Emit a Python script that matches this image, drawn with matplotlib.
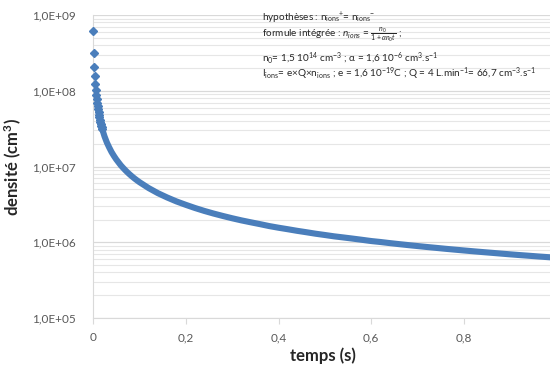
import matplotlib
matplotlib.use("Agg")
import matplotlib.pyplot as plt
from matplotlib.ticker import FixedLocator, LogLocator, NullFormatter

plt.rcParams['font.family'] = ['Lato', 'DejaVu Sans']
plt.rcParams['mathtext.fontset'] = 'custom'
plt.rcParams['mathtext.rm'] = 'Lato'
plt.rcParams['mathtext.it'] = 'Lato:italic'
plt.rcParams['mathtext.bf'] = 'Lato:bold'

# time (s)
temps = [0.001, 0.002, 0.003, 0.004, 0.005, 0.006, 0.007, 0.008, 0.009, 0.010,
         0.011, 0.012, 0.013, 0.014, 0.015, 0.016, 0.017, 0.018, 0.019, 0.020,
         0.025, 0.030, 0.035, 0.040, 0.045, 0.050, 0.055, 0.060, 0.065, 0.070,
         0.075, 0.080, 0.085, 0.090, 0.095, 0.100,
         0.12, 0.14, 0.16, 0.18, 0.20, 0.22, 0.24, 0.26, 0.28, 0.30,
         0.32, 0.34, 0.36, 0.38, 0.40, 0.42, 0.44, 0.46, 0.48, 0.50,
         0.52, 0.54, 0.56, 0.58, 0.60, 0.62, 0.64, 0.66, 0.68, 0.70,
         0.72, 0.74, 0.76, 0.78, 0.80, 0.82, 0.84, 0.86, 0.88, 0.90,
         0.92, 0.94, 0.96, 0.98, 1.00]
# density (cm-3)
densite = [6.25e8, 3.13e8, 2.08e8, 1.56e8, 1.25e8, 1.04e8, 8.93e7, 7.81e7, 6.94e7, 6.25e7,
           5.68e7, 5.21e7, 4.81e7, 4.46e7, 4.17e7, 3.91e7, 3.68e7, 3.47e7, 3.29e7, 3.13e7,
           2.50e7, 2.08e7, 1.79e7, 1.56e7, 1.39e7, 1.25e7, 1.14e7, 1.04e7, 9.62e6, 8.93e6,
           8.33e6, 7.81e6, 7.35e6, 6.94e6, 6.58e6, 6.25e6,
           5.21e6, 4.46e6, 3.91e6, 3.47e6, 3.13e6, 2.84e6, 2.60e6, 2.40e6, 2.23e6, 2.08e6,
           1.95e6, 1.84e6, 1.74e6, 1.64e6, 1.56e6, 1.49e6, 1.42e6, 1.36e6, 1.30e6, 1.25e6,
           1.20e6, 1.16e6, 1.12e6, 1.08e6, 1.04e6, 1.01e6, 9.77e5, 9.47e5, 9.19e5, 8.93e5,
           8.68e5, 8.45e5, 8.22e5, 8.01e5, 7.81e5, 7.62e5, 7.44e5, 7.27e5, 7.10e5, 6.94e5,
           6.79e5, 6.65e5, 6.51e5, 6.38e5, 6.25e5]

x_ticks = [0, 0.2, 0.4, 0.6, 0.8]
x_ticklabels = ['0', '0,2', '0,4', '0,6', '0,8']
y_ticks = [1e5, 1e6, 1e7, 1e8, 1e9]
y_ticklabels = ['1,0E+05', '1,0E+06', '1,0E+07', '1,0E+08', '1,0E+09']

blue = '#4a7ebb'
grey_text = '#595959'

fig = plt.figure(figsize=(5.5, 3.69), dpi=100)
ax = fig.add_axes([0.169, 0.138, 0.835, 0.821])

# dense part of the series: markers merge into a thick band
ax.plot(temps[9:], densite[9:], color=blue, lw=4.4, solid_capstyle='round', zorder=3)
# sparse early points: separate diamonds
ax.plot(temps[:20], densite[:20], ls='none', marker='D', ms=4.0, color=blue, zorder=4,
        clip_on=False)

ax.set_yscale('log')
ax.set_ylim(1e5, 1e9)
ax.set_xlim(0, 0.99)

ax.yaxis.set_major_locator(FixedLocator(y_ticks))
ax.set_yticklabels(y_ticklabels)
ax.yaxis.set_minor_locator(LogLocator(base=10, subs=range(2, 10)))
ax.yaxis.set_minor_formatter(NullFormatter())
ax.set_xticks(x_ticks)
ax.set_xticklabels(x_ticklabels)

ax.grid(True, which='major', axis='y', color='#d9d9d9', lw=0.9)
ax.grid(True, which='minor', axis='y', color='#e6e6e6', lw=0.8)
ax.set_axisbelow(True)

for s in ['top', 'right']:
    ax.spines[s].set_visible(False)
ax.spines['left'].set_color('#d9d9d9')
ax.spines['bottom'].set_color('#d9d9d9')
ax.tick_params(axis='y', which='both', length=0, labelsize=8.5, labelcolor=grey_text, pad=12)
ax.tick_params(axis='x', which='both', length=4, color='#d9d9d9', labelsize=8.5,
               labelcolor=grey_text, pad=6)

ax.set_xlabel('temps (s)', fontsize=12, fontweight='bold', color='#262626', labelpad=3)
ax.set_ylabel('densité (cm$^{\\mathbf{3}}$)', fontsize=12, fontweight='bold', color='#262626', labelpad=6)

txt_kw = dict(transform=fig.transFigure, fontsize=7.2, color='#262626', va='center', ha='left')
fig.text(0.476, 0.950, r'hypothèses : n$_{\mathrm{ions}}$$^{+}$= n$_{\mathrm{ions}}$$^{-}$', **txt_kw)
fig.text(0.476, 0.905, r'formule intégrée : $n_{ions}$ = $\frac{n_0}{1+\alpha n_0 t}$ ;', **txt_kw)
fig.text(0.476, 0.843, r'n$_0$= 1,5 10$^{14}$ cm$^{-3}$ ; α = 1,6 10$^{-6}$ cm$^{3}$.s$^{-1}$', **txt_kw)
fig.text(0.476, 0.800, r'I$_{\mathrm{ions}}$= e×Q×n$_{\mathrm{ions}}$ ; e = 1,6 10$^{-19}$C ; Q = 4 L.min$^{-1}$= 66,7 cm$^{-3}$.s$^{-1}$', **txt_kw)

fig.savefig('out.png', dpi=100)
